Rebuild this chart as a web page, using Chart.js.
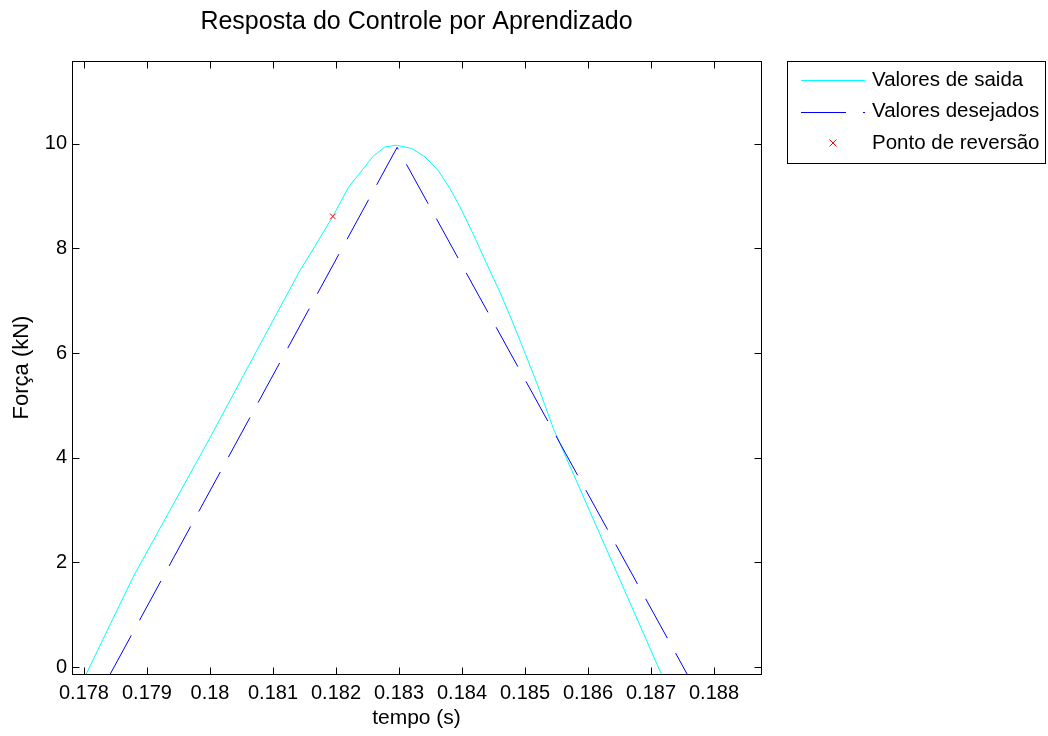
<!DOCTYPE html>
<html>
<head>
<meta charset="utf-8">
<script src="https://cdn.jsdelivr.net/npm/chart.js@4.4.1/dist/chart.umd.min.js"></script>
<style>
  html, body { margin: 0; padding: 0; background: #ffffff; }
  #wrap { width: 1048px; height: 736px; position: relative; }
</style>
</head>
<body>
<div id="wrap"><canvas id="c" width="1048" height="736"></canvas></div>
<script>
// ---- data ----
const chartTitle = 'Resposta do Controle por Aprendizado';
const xTitle = 'tempo (s)';
const yTitle = 'Força (kN)';

const saidaLabel = 'Valores de saida';
const saidaT = [0.17803, 0.17878, 0.18001, 0.18053, 0.18143, 0.18161, 0.18195, 0.18220, 0.18259, 0.18278, 0.18296, 0.18320, 0.18341, 0.18362, 0.18381, 0.18397, 0.18421, 0.18439, 0.18460, 0.18479, 0.18497, 0.18519, 0.18545, 0.18717];
const saidaF = [-0.15, 1.72, 4.40, 5.57, 7.58, 7.93, 8.61, 9.17, 9.76, 9.94, 9.97, 9.91, 9.75, 9.49, 9.14, 8.79, 8.19, 7.71, 7.17, 6.63, 6.09, 5.42, 4.56, -0.15];

const desejLabel = 'Valores desejados';
const desejT = [0.17841, 0.18297, 0.18758];
const desejF = [-0.15, 9.93, -0.15];

const revLabel = 'Ponto de reversão';
const revT = [0.18195];
const revF = [8.61];

const xTicks = [0.178, 0.179, 0.180, 0.181, 0.182, 0.183, 0.184, 0.185, 0.186, 0.187, 0.188];
const xTickLabels = ['0.178', '0.179', '0.18', '0.181', '0.182', '0.183', '0.184', '0.185', '0.186', '0.187', '0.188'];
const yTicks = [0, 2, 4, 6, 8, 10];
const yTickLabels = ['0', '2', '4', '6', '8', '10'];
const xMin = 0.17781, xMax = 0.188746;
const yMin = -0.134, yMax = 11.58;

// ---- styling ----
const FONT = "'Liberation Sans', Arial, Helvetica, sans-serif";
const CYAN = '#00ffff';
const BLUE = '#0000ff';
const RED = '#ff0000';
const DASH = [45, 17];

function pts(xs, ys) { return xs.map((x, i) => ({ x: x, y: ys[i] })); }

const framePlugin = {
  id: 'frame',
  afterDraw(chart) {
    const ctx = chart.ctx;
    const a = chart.chartArea;
    const xs = chart.scales.x, ys = chart.scales.y;
    const L = Math.round(a.left) + 0.5, R = Math.round(a.right) + 0.5;
    const T = Math.round(a.top) + 0.5, B = Math.round(a.bottom) + 0.5;
    ctx.save();
    ctx.strokeStyle = '#000000';
    ctx.lineWidth = 1;
    ctx.setLineDash([]);
    ctx.strokeRect(L, T, R - L, B - T);
    const tl = 7;
    ctx.beginPath();
    xTicks.forEach(v => {
      const p = Math.round(xs.getPixelForValue(v)) + 0.5;
      ctx.moveTo(p, B); ctx.lineTo(p, B - tl);
      ctx.moveTo(p, T); ctx.lineTo(p, T + tl);
    });
    yTicks.forEach(v => {
      const p = Math.round(ys.getPixelForValue(v)) + 0.5;
      ctx.moveTo(L, p); ctx.lineTo(L + tl, p);
      ctx.moveTo(R, p); ctx.lineTo(R - tl, p);
    });
    ctx.stroke();

    // legend box
    const lx = 787.5, ly = 61.5, lw = 258, lh = 102;
    ctx.fillStyle = '#ffffff';
    ctx.fillRect(lx, ly, lw, lh);
    ctx.strokeStyle = '#000000';
    ctx.strokeRect(lx, ly, lw, lh);
    const rows = [80, 111.5, 143];
    const ds = chart.data.datasets;
    ctx.font = '20.5px ' + FONT;
    ctx.textBaseline = 'middle';
    ctx.textAlign = 'left';
    ds.forEach((d, i) => {
      const y = rows[i];
      if (d.showLine) {
        ctx.save();
        ctx.strokeStyle = d.borderColor;
        ctx.lineWidth = 1;
        ctx.setLineDash(d.borderDash || []);
        ctx.beginPath();
        ctx.moveTo(801, Math.round(y) + 0.5);
        ctx.lineTo(865, Math.round(y) + 0.5);
        ctx.stroke();
        ctx.restore();
      } else {
        ctx.save();
        ctx.strokeStyle = d.borderColor;
        ctx.lineWidth = 1;
        const r = 3.5, cx = 833, cy = y;
        ctx.beginPath();
        ctx.moveTo(cx - r, cy - r); ctx.lineTo(cx + r, cy + r);
        ctx.moveTo(cx - r, cy + r); ctx.lineTo(cx + r, cy - r);
        ctx.stroke();
        ctx.restore();
      }
      ctx.fillStyle = '#000000';
      ctx.fillText(d.label, 872, y);
    });
    ctx.restore();
  }
};

new Chart(document.getElementById('c'), {
  type: 'scatter',
  data: {
    datasets: [
      {
        label: saidaLabel,
        data: pts(saidaT, saidaF),
        showLine: true,
        borderColor: CYAN,
        backgroundColor: CYAN,
        borderWidth: 1,
        pointRadius: 0,
        tension: 0,
        order: 2
      },
      {
        label: desejLabel,
        data: pts(desejT, desejF),
        showLine: true,
        borderColor: BLUE,
        backgroundColor: BLUE,
        borderWidth: 1,
        borderDash: DASH,
        pointRadius: 0,
        tension: 0,
        order: 1
      },
      {
        label: revLabel,
        data: pts(revT, revF),
        showLine: false,
        borderColor: RED,
        backgroundColor: RED,
        pointStyle: 'crossRot',
        pointRadius: 4,
        pointBorderWidth: 1,
        order: 0
      }
    ]
  },
  options: {
    responsive: false,
    animation: false,
    devicePixelRatio: 1,
    layout: { padding: { left: 0, right: 287, top: 0, bottom: 0 } },
    plugins: {
      legend: { display: false },
      tooltip: { enabled: false },
      title: {
        display: true,
        text: chartTitle,
        fullSize: false,
        color: '#000000',
        font: { family: FONT, size: 25, weight: 'normal', lineHeight: 1.2 },
        padding: { top: 7.4, bottom: 23.6 }
      }
    },
    scales: {
      x: {
        type: 'linear',
        min: xMin,
        max: xMax,
        grid: { display: false, drawTicks: false },
        border: { display: false },
        afterBuildTicks(s) { s.ticks = xTicks.map(v => ({ value: v })); },
        afterFit(s) { s.height = 62; },
        ticks: {
          color: '#000000',
          padding: 7,
          maxRotation: 0,
          autoSkip: false,
          font: { family: FONT, size: 20, lineHeight: 1.2 },
          callback: (v, i) => xTickLabels[i]
        },
        title: {
          display: true,
          text: xTitle,
          color: '#000000',
          font: { family: FONT, size: 21, lineHeight: 1.2 },
          padding: { top: 0, bottom: 5.4 }
        }
      },
      y: {
        type: 'linear',
        min: yMin,
        max: yMax,
        grid: { display: false, drawTicks: false },
        border: { display: false },
        afterBuildTicks(s) { s.ticks = yTicks.map(v => ({ value: v })); },
        afterFit(s) { s.width = 72; },
        ticks: {
          color: '#000000',
          padding: 5,
          autoSkip: false,
          font: { family: FONT, size: 20, lineHeight: 1.2 },
          callback: (v, i) => yTickLabels[i]
        },
        title: {
          display: true,
          text: yTitle,
          color: '#000000',
          font: { family: FONT, size: 22, lineHeight: 1.2 },
          padding: { top: 8.8, bottom: 0 }
        }
      }
    }
  },
  plugins: [framePlugin]
});
</script>
</body>
</html>
